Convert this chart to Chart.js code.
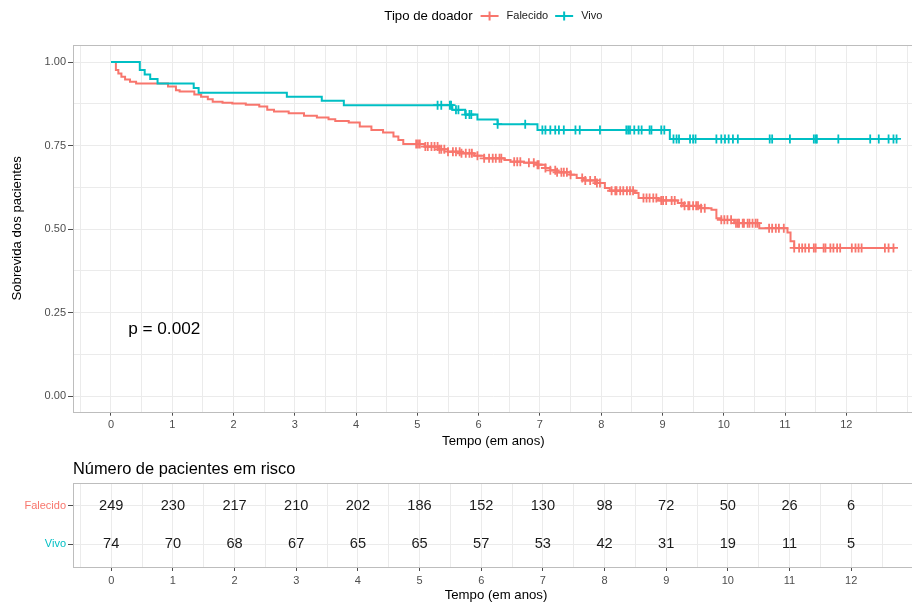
<!DOCTYPE html>
<html>
<head>
<meta charset="utf-8">
<title>Sobrevida por tipo de doador</title>
<script src="https://cdn.jsdelivr.net/npm/chart.js@4.4.1/dist/chart.umd.min.js"></script>
<style>
  html, body { margin: 0; padding: 0; background: #ffffff; overflow: hidden; }
  body { width: 912px; height: 604px; position: relative; }
  canvas { position: absolute; left: 0; }
  #km { top: 0; }
  #risk { top: 452px; }
</style>
</head>
<body>
<canvas id="km" width="920" height="452"></canvas>
<canvas id="risk" width="920" height="152"></canvas>
<script>
var FONT = "'Liberation Sans', Arial, Helvetica, sans-serif";
Chart.defaults.font.family = FONT;

var groupNames = ["Falecido", "Vivo"];
var groupColors = ["#F8766D", "#00BFC4"];
var legendTitle = "Tipo de doador";

// Kaplan-Meier steps: time (anos) and survival right after each drop
var falecidoTime = [0, 0.08, 0.12, 0.17, 0.23, 0.31, 0.41, 0.93, 1.06, 1.12, 1.36, 1.47, 1.58, 1.66, 1.82, 1.98,
  2.20, 2.42, 2.55, 2.66, 2.90, 3.15, 3.36, 3.55, 3.66, 3.88, 4.06, 4.25, 4.44, 4.61, 4.69, 4.77,
  5.12, 5.34, 5.50, 5.71, 5.93, 6.09, 6.42, 6.52, 6.74, 6.96, 7.09, 7.17, 7.28, 7.50, 7.60, 7.71, 7.93,
  8.06, 8.14, 8.55, 8.61, 8.93, 9.25, 9.34, 9.61, 9.80, 9.88, 9.96, 10.17, 10.58, 11.04, 11.09, 11.15, 12.79];
var falecidoSurv = [1, 0.976, 0.966, 0.956, 0.948, 0.941, 0.936, 0.927, 0.916, 0.912, 0.903, 0.896, 0.889, 0.881, 0.878, 0.876,
  0.872, 0.867, 0.857, 0.852, 0.847, 0.839, 0.834, 0.829, 0.824, 0.819, 0.807, 0.797, 0.789, 0.777, 0.767, 0.755,
  0.747, 0.739, 0.732, 0.727, 0.720, 0.712, 0.707, 0.702, 0.699, 0.693, 0.683, 0.676, 0.670, 0.663, 0.653, 0.646, 0.638,
  0.623, 0.615, 0.608, 0.593, 0.586, 0.578, 0.570, 0.563, 0.558, 0.533, 0.528, 0.518, 0.503, 0.490, 0.464, 0.444, 0.444];
var falecidoCensor = [4.98, 5.01, 5.04, 5.13, 5.17, 5.23, 5.28, 5.33, 5.36, 5.39, 5.44, 5.50, 5.58, 5.63, 5.69, 5.72,
  5.79, 5.85, 5.89, 5.98, 6.09, 6.17, 6.23, 6.28, 6.34, 6.37, 6.58, 6.63, 6.68, 6.82, 6.90, 6.96, 6.98,
  7.09, 7.17, 7.25, 7.28, 7.35, 7.39, 7.44, 7.50, 7.69, 7.74, 7.82, 7.90, 7.93, 7.98, 8.17, 8.23, 8.25,
  8.31, 8.36, 8.42, 8.47, 8.52, 8.69, 8.74, 8.79, 8.85, 8.90, 8.98, 9.01, 9.06, 9.15, 9.20, 9.31, 9.36,
  9.42, 9.44, 9.50, 9.55, 9.58, 9.63, 9.69, 9.96, 10.01, 10.06, 10.12, 10.20, 10.23, 10.25, 10.31, 10.33,
  10.39, 10.42, 10.47, 10.52, 10.55, 10.74, 10.79, 10.85, 10.90, 10.98, 11.15, 11.23, 11.28, 11.33, 11.39,
  11.47, 11.50, 11.63, 11.66, 11.74, 11.79, 11.85, 11.90, 12.09, 12.15, 12.20, 12.25, 12.63, 12.69, 12.77];

var vivoTime = [0, 0.47, 0.55, 0.64, 0.76, 1.35, 1.43, 2.87, 3.44, 3.80, 5.57, 5.78, 5.98, 6.31, 6.96, 9.12, 12.84];
var vivoSurv = [1, 0.976, 0.963, 0.949, 0.936, 0.922, 0.908, 0.896, 0.884, 0.871, 0.857, 0.843, 0.828, 0.814, 0.797, 0.770, 0.770];
var vivoCensor = [5.33, 5.39, 5.53, 5.55, 5.63, 5.67, 5.79, 5.85, 5.88, 6.31, 6.76, 7.04, 7.09, 7.17, 7.25, 7.31,
  7.39, 7.58, 7.65, 7.98, 8.41, 8.44, 8.47, 8.54, 8.61, 8.66, 8.79, 8.82, 8.98, 9.03, 9.18, 9.23, 9.27,
  9.45, 9.50, 9.54, 9.88, 9.96, 10.02, 10.08, 10.15, 10.23, 10.75, 10.79, 11.08, 11.47, 11.50, 11.52,
  11.87, 12.39, 12.53, 12.69, 12.77, 12.82];

// numbers at risk
var riskTimes = [0, 1, 2, 3, 4, 5, 6, 7, 8, 9, 10, 11, 12];
var falecidoRisk = [249, 230, 217, 210, 202, 186, 152, 130, 98, 72, 50, 26, 6];
var vivoRisk = [74, 70, 68, 67, 65, 65, 57, 53, 42, 31, 19, 11, 5];

var pValueText = "p = 0.002";
var pValueAt = { x: 0.28, y: 0.2 };

var xMin = -0.62, xMax = 13.1, lastLabel = 12;
var gridColor = "#EBEBEB";
var borderColor = "#BDBDBD";
var tickText = "#4D4D4D";

function survAt(times, surv, t) {
    var s = surv[0];
    for (var i = 0; i < times.length; i++) {
        if (times[i] <= t) s = surv[i];
    }
    return s;
}

function stepPoints(times, surv) {
    return times.map(function (t, i) { return { x: t, y: surv[i] }; });
}

function censorPoints(censor, times, surv) {
    return censor.map(function (t) { return { x: t, y: survAt(times, surv, t) }; });
}

function halfSteps(from, to) {
    var out = [];
    for (var v = from; v <= to + 1e-9; v += 0.5) out.push({ value: v });
    return out;
}

function isLabelled(v) {
    return Number.isInteger(v) && v >= 0 && v <= lastLabel;
}

function timeAxis(titlePad, height) {
    return {
        type: "linear",
        min: xMin,
        max: xMax,
        afterBuildTicks: function (scale) { scale.ticks = halfSteps(-0.5, 13); },
        afterFit: function (scale) { scale.height = height; },
        ticks: {
            autoSkip: false,
            maxRotation: 0,
            padding: 3,
            color: tickText,
            font: { size: 11 },
            callback: function (v) { return isLabelled(v) ? String(v) : ""; }
        },
        grid: {
            color: gridColor,
            lineWidth: 1,
            tickLength: 4,
            tickColor: function (c) {
                return c.tick && isLabelled(c.tick.value) ? tickText : "rgba(0,0,0,0)";
            }
        },
        border: { display: false },
        title: {
            display: true,
            text: "Tempo (em anos)",
            color: "#000000",
            font: { size: 13.2 },
            padding: { top: 0, bottom: titlePad }
        }
    };
}

// frame around the panel
var panelBorder = {
    id: "panelBorder",
    afterDatasetsDraw: function (chart) {
        var a = chart.chartArea, ctx = chart.ctx;
        ctx.save();
        ctx.strokeStyle = borderColor;
        ctx.lineWidth = 1;
        ctx.strokeRect(Math.round(a.left) + 0.5, Math.round(a.top) + 0.5,
            Math.round(a.right - a.left), Math.round(a.bottom - a.top));
        ctx.restore();
    }
};

// legend row on top, centred on the panel
var legendRow = {
    id: "legendRow",
    afterDraw: function (chart) {
        var ctx = chart.ctx, a = chart.chartArea;
        var cy = 16, keyW = 18;
        ctx.save();
        ctx.textBaseline = "middle";
        ctx.textAlign = "left";
        ctx.font = "13.2px " + FONT;
        var titleW = ctx.measureText(legendTitle).width;
        ctx.font = "11px " + FONT;
        var w0 = ctx.measureText(groupNames[0]).width;
        var w1 = ctx.measureText(groupNames[1]).width;
        var total = titleW + 8 + keyW + 8 + w0 + 7 + keyW + 8 + w1;
        var x = (a.left + a.right) / 2 - total / 2;

        ctx.fillStyle = "#000000";
        ctx.font = "13.2px " + FONT;
        ctx.fillText(legendTitle, x, cy);
        x += titleW + 8;

        var widths = [w0, w1];
        ctx.font = "11px " + FONT;
        for (var g = 0; g < 2; g++) {
            ctx.strokeStyle = groupColors[g];
            ctx.lineWidth = 2;
            ctx.beginPath();
            ctx.moveTo(x, cy);
            ctx.lineTo(x + keyW, cy);
            ctx.moveTo(x + keyW / 2, cy - 4.5);
            ctx.lineTo(x + keyW / 2, cy + 4.5);
            ctx.stroke();
            x += keyW + 8;
            ctx.fillStyle = "#1A1A1A";
            ctx.fillText(groupNames[g], x, cy);
            x += widths[g] + 7;
        }
        ctx.restore();
    }
};

// log-rank p-value inside the panel
var pValueLabel = {
    id: "pValueLabel",
    afterDatasetsDraw: function (chart) {
        var ctx = chart.ctx;
        ctx.save();
        ctx.font = "17.2px " + FONT;
        ctx.fillStyle = "#000000";
        ctx.textAlign = "left";
        ctx.textBaseline = "middle";
        ctx.fillText(pValueText, chart.scales.x.getPixelForValue(pValueAt.x), chart.scales.y.getPixelForValue(pValueAt.y));
        ctx.restore();
    }
};

new Chart(document.getElementById("km"), {
    type: "line",
    data: {
        datasets: [
            {
                type: "scatter",
                label: groupNames[1] + " censura",
                data: censorPoints(vivoCensor, vivoTime, vivoSurv),
                pointStyle: "cross",
                pointRadius: 4.5,
                borderColor: groupColors[1],
                borderWidth: 1.8,
                showLine: false,
                order: 0
            },
            {
                type: "scatter",
                label: groupNames[0] + " censura",
                data: censorPoints(falecidoCensor, falecidoTime, falecidoSurv),
                pointStyle: "cross",
                pointRadius: 4.5,
                borderColor: groupColors[0],
                borderWidth: 1.8,
                showLine: false,
                order: 1
            },
            {
                label: groupNames[1],
                data: stepPoints(vivoTime, vivoSurv),
                stepped: "before",
                borderColor: groupColors[1],
                borderWidth: 2,
                pointRadius: 0,
                fill: false,
                order: 2
            },
            {
                label: groupNames[0],
                data: stepPoints(falecidoTime, falecidoSurv),
                stepped: "before",
                borderColor: groupColors[0],
                borderWidth: 2,
                pointRadius: 0,
                fill: false,
                order: 3
            }
        ]
    },
    options: {
        responsive: false,
        animation: false,
        events: [],
        layout: { padding: { top: 45, right: 1, left: 0, bottom: 0 } },
        plugins: { legend: { display: false }, tooltip: { enabled: false } },
        scales: {
            x: timeAxis(3, 40.3),
            y: {
                type: "linear",
                min: -0.046,
                max: 1.051,
                afterBuildTicks: function (scale) {
                    var t = [];
                    for (var k = 0; k <= 8; k++) t.push({ value: k * 0.125 });
                    scale.ticks = t;
                },
                afterFit: function (scale) { scale.width = 73; },
                ticks: {
                    padding: 2,
                    color: tickText,
                    font: { size: 11 },
                    callback: function (v) { return (v * 4) % 1 === 0 ? v.toFixed(2) : ""; }
                },
                grid: {
                    color: gridColor,
                    lineWidth: 1,
                    tickLength: 5,
                    tickColor: function (c) {
                        return c.tick && (c.tick.value * 4) % 1 === 0 ? tickText : "rgba(0,0,0,0)";
                    }
                },
                border: { display: false },
                title: {
                    display: true,
                    text: "Sobrevida dos pacientes",
                    color: "#000000",
                    font: { size: 13.2 },
                    padding: { top: 9, bottom: 0 }
                }
            }
        }
    },
    plugins: [panelBorder, legendRow, pValueLabel]
});

// risk table: numbers drawn at each (time, group) position
var riskNumbers = {
    id: "riskNumbers",
    afterDatasetsDraw: function (chart) {
        var ctx = chart.ctx;
        ctx.save();
        ctx.font = "14.6px " + FONT;
        ctx.fillStyle = "#1A1A1A";
        ctx.textAlign = "center";
        ctx.textBaseline = "middle";
        chart.data.datasets.forEach(function (ds, d) {
            var meta = chart.getDatasetMeta(d);
            meta.data.forEach(function (pt, i) {
                ctx.fillText(String(ds.counts[i]), pt.x, pt.y);
            });
        });
        ctx.restore();
    }
};

var riskTitle = {
    id: "riskTitle",
    afterDraw: function (chart) {
        var ctx = chart.ctx;
        ctx.save();
        ctx.font = "16.4px " + FONT;
        ctx.fillStyle = "#000000";
        ctx.textAlign = "left";
        ctx.textBaseline = "middle";
        ctx.fillText("Número de pacientes em risco", chart.chartArea.left, 17);
        ctx.restore();
    }
};

new Chart(document.getElementById("risk"), {
    type: "scatter",
    data: {
        datasets: [
            {
                label: groupNames[0],
                data: riskTimes.map(function (t) { return { x: t, y: 2 }; }),
                counts: falecidoRisk,
                pointRadius: 0
            },
            {
                label: groupNames[1],
                data: riskTimes.map(function (t) { return { x: t, y: 1 }; }),
                counts: vivoRisk,
                pointRadius: 0
            }
        ]
    },
    options: {
        responsive: false,
        animation: false,
        events: [],
        layout: { padding: { top: 31, right: 1, left: 0, bottom: 0 } },
        plugins: { legend: { display: false }, tooltip: { enabled: false } },
        scales: {
            x: timeAxis(1.1, 37),
            y: {
                type: "linear",
                min: 0.4,
                max: 2.6,
                afterBuildTicks: function (scale) { scale.ticks = [{ value: 1 }, { value: 2 }]; },
                afterFit: function (scale) { scale.width = 73; },
                ticks: {
                    padding: 2,
                    font: { size: 11 },
                    color: function (c) { return c.tick && c.tick.value === 2 ? groupColors[0] : groupColors[1]; },
                    callback: function (v) { return v === 2 ? groupNames[0] : groupNames[1]; }
                },
                grid: {
                    color: gridColor,
                    lineWidth: 1,
                    tickLength: 5,
                    tickColor: tickText
                },
                border: { display: false }
            }
        }
    },
    plugins: [panelBorder, riskNumbers, riskTitle]
});
</script>
</body>
</html>
